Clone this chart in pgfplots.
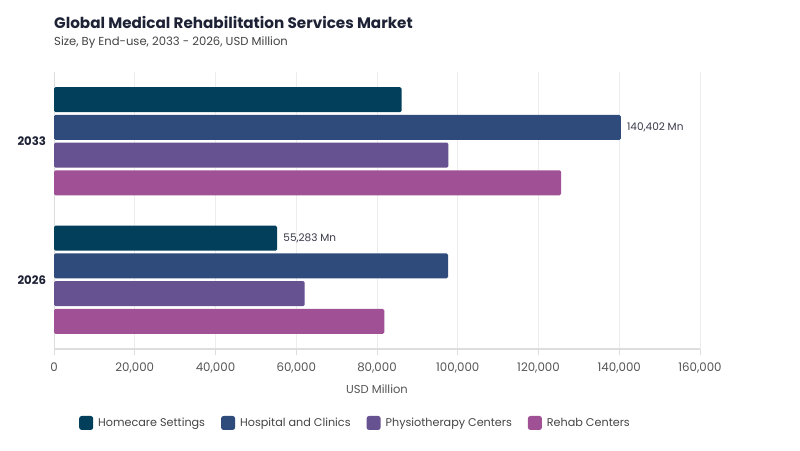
\documentclass[border=0pt]{standalone}
\usepackage{fontspec}
\setmainfont{Poppins}
\usepackage{pgfplots}
\pgfplotsset{compat=1.18}

\definecolor{homecare}{HTML}{023F5A}
\definecolor{hospital}{HTML}{2F4B7C}
\definecolor{physio}{HTML}{665191}
\definecolor{rehab}{HTML}{A05195}
\definecolor{titlecol}{HTML}{1E2235}
\definecolor{subcol}{HTML}{444444}
\definecolor{labcol}{HTML}{3A3A4A}
\definecolor{tickcol}{HTML}{555555}
\definecolor{gridcol}{HTML}{EDEDED}
\definecolor{axiscol}{HTML}{DDDDDD}

\begin{document}
\begin{tikzpicture}[x=1pt,y=1pt]
\fill[white] (0,0) rectangle (800,-450);
\node[anchor=base west, inner sep=0, text=titlecol,
      font=\bfseries\fontsize{15.2}{17}\selectfont] at (54,-28.5)
      {Global Medical Rehabilitation Services Market};
\node[anchor=base west, inner sep=0, text=subcol,
      font=\fontsize{11.6}{13}\selectfont] at (54,-45.5)
      {Size, By End-use, 2033 - 2026, USD Million};

\begin{axis}[
    at={(54pt,-349pt)}, anchor=south west,
    scale only axis, width=646pt, height=277pt,
    xbar, bar width=0.18,
    xmin=0, xmax=160000, ymin=-0.5, ymax=1.5,
    ytick={0,1}, yticklabels={2026,2033},
    xtick={0,20000,...,160000},
    scaled x ticks=false,
    /pgf/number format/assume math mode=true,
    /pgf/number format/fixed,
    /pgf/number format/precision=0,
    /pgf/number format/1000 sep={,},
    xticklabel style={font=\fontsize{11.8}{13}\selectfont, text=tickcol, yshift=-4pt},
    yticklabel style={font=\bfseries\fontsize{11.7}{13}\selectfont, text=titlecol, xshift=1.5pt},
    xlabel={USD Million},
    xlabel style={font=\fontsize{11.5}{13}\selectfont, text=tickcol, yshift=-5pt},
    axis x line*=bottom, axis y line*=left,
    x axis line style={draw=axiscol, line width=2pt, -},
    y axis line style={draw=axiscol, line width=1pt, -},
    xtick style={draw=axiscol, line width=0.8pt},
    ytick style={draw=none},
    tick align=outside, major tick length=6pt,
    xmajorgrids, grid style={draw=gridcol, line width=0.8pt},
    point meta=explicit symbolic,
    nodes near coords={\pgfplotspointmeta},
    nodes near coords style={font=\fontsize{10.5}{12}\selectfont, text=labcol,
        anchor=west, inner sep=0pt, xshift=6pt},
    legend columns=-1,
    legend style={at={(0.0387,-0.267)}, anchor=west, draw=none, fill=none,
        inner sep=0pt, font=\fontsize{11.2}{13}\selectfont, text=subcol,
        /tikz/every odd column/.append style={column sep=3pt},
        /tikz/every even column/.append style={column sep=14pt}},
    legend image code/.code={\fill[#1, draw=none, rounded corners=2.5pt]
        (0pt,-7pt) rectangle (14pt,7pt);},
]
\addplot[fill=homecare, draw=none, bar shift=0.3, rounded corners=1.5pt]
    coordinates {(55283,0) [55,283 Mn] (86100,1) []};
\addplot[fill=hospital, draw=none, bar shift=0.1, rounded corners=1.5pt]
    coordinates {(97600,0) [] (140402,1) [140,402 Mn]};
\addplot[fill=physio, draw=none, bar shift=-0.1, rounded corners=1.5pt]
    coordinates {(62100,0) [] (97700,1) []};
\addplot[fill=rehab, draw=none, bar shift=-0.3, rounded corners=1.5pt]
    coordinates {(81800,0) [] (125600,1) []};
\legend{Homecare Settings, Hospital and Clinics, Physiotherapy Centers, Rehab Centers}
\end{axis}
\end{tikzpicture}
\end{document}
